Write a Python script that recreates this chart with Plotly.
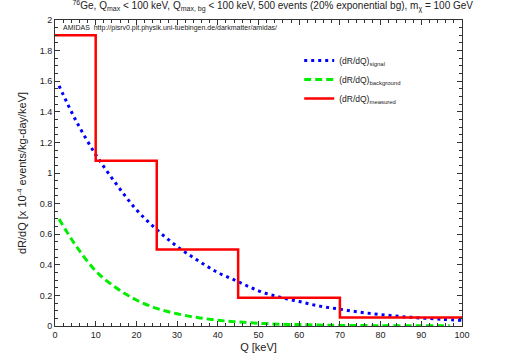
import plotly.graph_objects as go

# measured spectrum (histogram bins)
bin_edges = [0, 10, 25, 45, 70, 100]
measured = [1.90, 1.08, 0.50, 0.185, 0.055]

# signal and background curves
q_sig = [1, 5, 10, 15, 20, 25, 30, 35, 40, 45, 50, 55, 60, 65, 70, 75, 80, 85, 90, 95, 100]
signal = [1.57, 1.35, 1.12, 0.93, 0.76, 0.63, 0.52, 0.43, 0.35, 0.29, 0.23, 0.19,
          0.16, 0.13, 0.11, 0.09, 0.075, 0.062, 0.052, 0.044, 0.037]
q_bg = [1, 5, 10, 15, 20, 25, 30, 35, 40, 45, 50, 55, 60, 65, 70, 80, 90, 97]
background = [0.70, 0.53, 0.36, 0.25, 0.17, 0.115, 0.08, 0.055, 0.038, 0.026, 0.018,
              0.012, 0.009, 0.006, 0.004, 0.002, 0.001, 0.001]

xticks = list(range(0, 101, 10))
yticks = [0, 0.2, 0.4, 0.6, 0.8, 1, 1.2, 1.4, 1.6, 1.8, 2]

font = "Liberation Sans, Arial, sans-serif"

fig = go.Figure()

fig.add_trace(go.Scatter(
    x=q_sig, y=signal, mode="lines", line_shape="spline",
    line=dict(color="#0000ff", width=3, dash="3px,4px"),
    name="(dR/dQ)<sub>signal</sub>"))

fig.add_trace(go.Scatter(
    x=q_bg, y=background, mode="lines", line_shape="spline",
    line=dict(color="#00ee00", width=3, dash="7px,4px"),
    name="(dR/dQ)<sub>background</sub>"))

fig.add_trace(go.Scatter(
    x=bin_edges, y=measured + [measured[-1]], mode="lines", line_shape="hv",
    line=dict(color="#ff0000", width=2.5),
    name="(dR/dQ)<sub>measured</sub>"))

axis_common = dict(
    showline=True, linecolor="#333", linewidth=1, mirror="allticks",
    ticks="inside", ticklen=5, tickcolor="#333",
    showgrid=False, zeroline=False, automargin=False,
    tickfont=dict(size=9, color="#222", family=font),
)

fig.update_xaxes(
    range=[0, 100], tickvals=xticks,
    title=dict(text="Q [keV]", font=dict(size=11, color="#222", family=font), standoff=4),
    minor=dict(dtick=2, ticks="inside", ticklen=3, tickcolor="#333"),
    **axis_common)

fig.update_yaxes(
    range=[0, 2], tickvals=yticks,
    title=dict(text="dR/dQ [x 10<sup>-4</sup> events/kg-day/keV]",
               font=dict(size=11, color="#222", family=font), standoff=10),
    minor=dict(dtick=0.05, ticks="inside", ticklen=3, tickcolor="#333"),
    **axis_common)

fig.update_layout(
    width=507, height=355,
    margin=dict(l=55, r=45, t=20, b=29),
    paper_bgcolor="white", plot_bgcolor="white",
    font=dict(family=font, size=9, color="#222"),
    title=dict(
        text="<sup>76</sup>Ge, Q<sub>max</sub> < 100 keV, Q<sub>max, bg</sub> < 100 keV, "
             "500 events (20% exponential bg), m<sub>χ</sub> = 100 GeV",
        font=dict(size=10, color="#222", family=font),
        x=0.535, xanchor="center", xref="paper", y=0.995, yanchor="top"),
    legend=dict(x=0.6, y=0.915, xanchor="left", yanchor="top",
                bgcolor="rgba(0,0,0,0)", font=dict(size=8.5, family=font),
                itemwidth=30, tracegroupgap=0),
    annotations=[dict(
        text="AMIDAS&nbsp;&nbsp;http://pisrv0.pit.physik.uni-tuebingen.de/darkmatter/amidas/",
        xref="paper", yref="paper", x=0.015, y=0.995, xanchor="left", yanchor="top",
        showarrow=False, font=dict(size=7, color="#222", family=font))],
)

fig.write_html("out.html", config={"displayModeBar": False},
               post_script="document.body.style.margin='0';")
